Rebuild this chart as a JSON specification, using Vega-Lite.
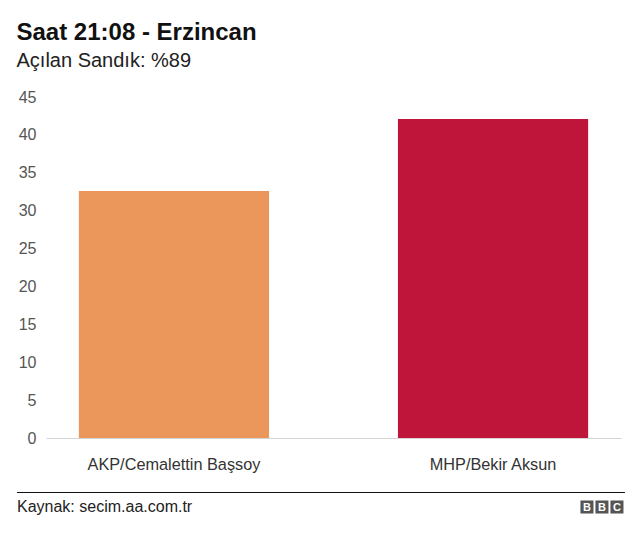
{
  "$schema": "https://vega.github.io/schema/vega-lite/v6.json",
  "padding": {"left": 16, "top": 21, "right": 16, "bottom": 10},
  "config": {"view": {"stroke": null}, "font": "Liberation Sans"},
  "title": {
    "text": "Saat 21:08 - Erzincan",
    "subtitle": "Açılan Sandık: %89",
    "anchor": "start",
    "frame": "bounds",
    "font": "Liberation Sans",
    "fontSize": 24,
    "fontWeight": "bold",
    "color": "#111111",
    "subtitleFont": "Liberation Sans",
    "subtitleFontSize": 20,
    "subtitleColor": "#222222",
    "subtitlePadding": 6,
    "offset": 18
  },
  "spacing": 19,
  "align": "none",
  "vconcat": [
    {
      "width": 575,
      "height": 341,
      "data": {"values": [
        {"party": "AKP/Cemalettin Başsoy", "value": 32.6},
        {"party": "MHP/Bekir Aksun", "value": 42.1}
      ]},
      "mark": {"type": "bar"},
      "encoding": {
        "x": {
          "field": "party", "type": "nominal", "sort": null,
          "scale": {"paddingInner": 0.404, "paddingOuter": 0.103},
          "axis": {"title": null, "labelAngle": 0, "ticks": false, "domainColor": "#d4d4d4", "labelFontSize": 16.3, "labelColor": "#333333", "labelPadding": 18}
        },
        "y": {
          "field": "value", "type": "quantitative",
          "scale": {"domain": [0, 45]},
          "axis": {"title": null, "values": [0, 5, 10, 15, 20, 25, 30, 35, 40, 45], "grid": false, "domain": false, "ticks": false, "labelFontSize": 16, "labelColor": "#555555", "labelPadding": 10}
        },
        "color": {
          "field": "party", "type": "nominal", "sort": null,
          "scale": {"range": ["#EB965B", "#C0153B"]},
          "legend": null
        }
      }
    },
    {
      "width": 575,
      "height": 26,
      "layer": [
        {
          "data": {"values": [{"t": "Kaynak: secim.aa.com.tr"}]},
          "mark": {"type": "text", "align": "left", "baseline": "middle", "fontSize": 16, "color": "#222222", "x": -29, "y": 15},
          "encoding": {"text": {"field": "t"}}
        },
        {
          "data": {"values": [{"a": 1}]},
          "mark": {"type": "rule", "color": "#111111", "strokeWidth": 1},
          "encoding": {"y": {"value": 0.5}, "x": {"value": -29}, "x2": {"value": 579}}
        },
        {
          "data": {"values": [{"l": "B", "i": 0}, {"l": "B", "i": 1}, {"l": "C", "i": 2}]},
          "mark": {"type": "square", "filled": true, "color": "#555555", "size": 170, "opacity": 1, "y": 15},
          "encoding": {"x": {"field": "i", "type": "quantitative", "scale": {"domain": [-36.07, 2.27]}, "axis": null}}
        },
        {
          "data": {"values": [{"l": "B", "i": 0}, {"l": "B", "i": 1}, {"l": "C", "i": 2}]},
          "mark": {"type": "text", "color": "#ffffff", "fontWeight": "bold", "fontSize": 11, "baseline": "middle", "y": 15.5},
          "encoding": {
            "x": {"field": "i", "type": "quantitative", "scale": {"domain": [-36.07, 2.27]}, "axis": null},
            "text": {"field": "l"}
          }
        }
      ]
    }
  ]
}
